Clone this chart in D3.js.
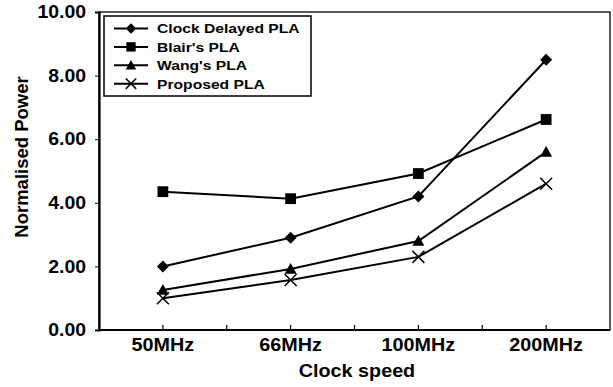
<!DOCTYPE html>
<html>
<head>
<meta charset="utf-8">
<script src="https://cdn.jsdelivr.net/npm/d3@7"></script>
<style>
  body { margin: 0; background: #fff; }
  svg { display: block; font-family: "Liberation Sans", Arial, sans-serif; font-weight: bold; }
</style>
</head>
<body>
<svg id="chart" width="613" height="387"></svg>
<script>
// data
const clocks = ["50MHz", "66MHz", "100MHz", "200MHz"];
const clockDelayed = [2.0, 2.9, 4.2, 8.5];
const blairs = [4.35, 4.13, 4.92, 6.62];
const wangs = [1.26, 1.92, 2.8, 5.6];
const proposed = [1.0, 1.57, 2.3, 4.6];
const yTicks = [0, 2, 4, 6, 8, 10];

const seriesList = [
  { name: "Clock Delayed PLA", values: clockDelayed, shape: "diamond" },
  { name: "Blair's PLA", values: blairs, shape: "square" },
  { name: "Wang's PLA", values: wangs, shape: "triangle" },
  { name: "Proposed PLA", values: proposed, shape: "cross" }
];

const svg = d3.select("#chart");
const plotL = 99, plotR = 610, plotT = 12, plotB = 330;

const x = d3.scaleBand().domain(clocks).range([plotL, plotR]);
const y = d3.scaleLinear().domain([0, 10]).range([plotB, plotT]);

// the original text looks a bit wide, stretch it around its own x
function stretch(sel, k) {
  sel.each(function () {
    const t = d3.select(this);
    const tx = +t.attr("x") || 0;
    t.attr("transform", `translate(${tx},0) scale(${k},1) translate(${-tx},0)`);
  });
}

// frame
svg.append("rect")
  .attr("x", plotL).attr("y", plotT)
  .attr("width", plotR - plotL).attr("height", plotB - plotT)
  .attr("fill", "none").attr("stroke", "#000").attr("stroke-width", 1.3);

// y axis
const yAxis = svg.append("g")
  .attr("transform", `translate(${plotL},0)`)
  .call(d3.axisLeft(y).tickValues(yTicks).tickFormat(d3.format(".2f")).tickSize(4).tickPadding(9));
yAxis.select(".domain").attr("stroke-width", 2.2);
yAxis.selectAll("text").attr("font-size", 18).attr("font-family", "Liberation Sans").attr("font-weight", "bold").attr("fill", "#000");
stretch(yAxis.selectAll("text"), 1.08);

// x axis: ticks at centres and band edges, pointing inward
const xAxis = svg.append("g")
  .attr("transform", `translate(0,${plotB})`)
  .call(d3.axisBottom(x).tickSize(0));
xAxis.select(".domain").attr("d", `M${plotL},0H${plotR}`).attr("stroke-width", 2.2);
xAxis.selectAll("text")
  .attr("y", 21).attr("dy", null)
  .attr("font-size", 17.5).attr("font-family", "Liberation Sans").attr("font-weight", "bold").attr("fill", "#000");
stretch(xAxis.selectAll("text"), 1.13);
const xTickPos = [];
clocks.forEach((c, i) => {
  xTickPos.push(x(c) + x.bandwidth() / 2);
  if (i > 0) xTickPos.push(x(c));
});
xAxis.selectAll("line.inner").data(xTickPos).join("line")
  .attr("class", "inner")
  .attr("x1", d => d).attr("x2", d => d)
  .attr("y1", 0).attr("y2", -5)
  .attr("stroke", "#000").attr("stroke-width", 1.2);

// axis titles
const xTitle = svg.append("text")
  .attr("x", 357).attr("y", 377)
  .attr("text-anchor", "middle").attr("font-size", 17.5)
  .text("Clock speed");
stretch(xTitle, 1.13);
svg.append("text")
  .attr("transform", "translate(28,157) rotate(-90)")
  .attr("text-anchor", "middle").attr("font-size", 18.5)
  .text("Normalised Power");

// marker helper
function drawMarker(g, shape, cx, cy, s) {
  if (shape === "diamond") {
    g.append("path").attr("d", `M${cx},${cy - s}L${cx + s},${cy}L${cx},${cy + s}L${cx - s},${cy}Z`).attr("fill", "#000");
  } else if (shape === "square") {
    g.append("rect").attr("x", cx - s * 0.9).attr("y", cy - s * 0.9)
      .attr("width", s * 1.8).attr("height", s * 1.8).attr("fill", "#000");
  } else if (shape === "triangle") {
    g.append("path").attr("d", `M${cx},${cy - s}L${cx + s},${cy + s * 0.8}L${cx - s},${cy + s * 0.8}Z`).attr("fill", "#000");
  } else {
    g.append("path").attr("d", `M${cx - s},${cy - s}L${cx + s},${cy + s}M${cx - s},${cy + s}L${cx + s},${cy - s}`)
      .attr("stroke", "#000").attr("stroke-width", 1.5).attr("fill", "none");
  }
}

const line = d3.line()
  .x((d, i) => x(clocks[i]) + x.bandwidth() / 2)
  .y(d => y(d));

seriesList.forEach(s => {
  const g = svg.append("g");
  g.append("path").datum(s.values).attr("d", line)
    .attr("fill", "none").attr("stroke", "#000").attr("stroke-width", 2);
  s.values.forEach((v, i) => {
    drawMarker(g, s.shape, x(clocks[i]) + x.bandwidth() / 2, y(v), 6);
  });
});

// legend
const legend = svg.append("g");
legend.append("rect")
  .attr("x", 104).attr("y", 16).attr("width", 207).attr("height", 80)
  .attr("fill", "#fff").attr("stroke", "#000").attr("stroke-width", 1.5);
seriesList.forEach((s, i) => {
  const ly = 28.5 + i * 18.4;
  legend.append("line").attr("x1", 114).attr("x2", 148).attr("y1", ly).attr("y2", ly)
    .attr("stroke", "#000").attr("stroke-width", 2);
  drawMarker(legend, s.shape, 131, ly, 5.2);
  const t = legend.append("text").attr("x", 157).attr("y", ly + 5)
    .attr("font-size", 13.5).text(s.name);
  stretch(t, 1.16);
});
</script>
</body>
</html>
